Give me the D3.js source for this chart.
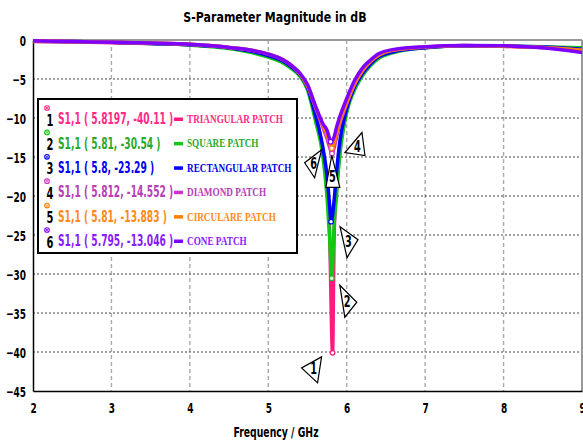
<!DOCTYPE html>
<html>
<head>
<meta charset="utf-8">
<script src="https://cdn.jsdelivr.net/npm/d3@7"></script>
<style>
  body { margin: 0; background: #fff; }
  svg { display: block; }
  .narrow { font-family: "DejaVu Sans", sans-serif; font-weight: bold; }
</style>
</head>
<body>
<svg id="chart" width="583" height="443"></svg>
<script>
// frequency grid (GHz) shared by all curves, dip minimum comes from the marker arrays
const freq = [2, 2.5, 3, 3.5, 4, 4.5, 5, 5.2, 5.3, 5.4, 5.5, 5.6, 5.7, 5.75, 5.78, 5.84, 5.87, 5.9, 6.0, 6.1, 6.2, 6.3, 6.4, 6.6, 7, 7.5, 8, 8.5, 9]

const triangular  = [-0.2, -0.25, -0.35, -0.45, -0.6, -1.0, -2.0, -2.8, -3.5, -4.4, -6.1, -9.4, -14.5, -18.5, -24, -25, -19, -15.5, -9.0, -6.1, -4.4, -3.1, -2.2, -1.4, -0.95, -0.75, -0.8, -0.95, -1.2]
const square      = [-0.15, -0.2, -0.3, -0.45, -0.65, -1.1, -2.2, -3.0, -3.7, -4.6, -6.4, -10.3, -15.2, -20.3, -25, -23.5, -20, -16, -9.3, -6.4, -4.6, -3.3, -2.4, -1.6, -1.0, -0.75, -0.8, -0.85, -1.0]
const rectangular = [-0.15, -0.2, -0.3, -0.45, -0.6, -1.0, -2.0, -2.8, -3.5, -4.4, -6.1, -9.6, -14, -17.5, -21, -20.5, -17, -14, -8.8, -6.0, -4.3, -3.1, -2.2, -1.5, -1.0, -0.75, -0.8, -0.9, -1.2]
const diamond     = [-0.1, -0.2, -0.3, -0.4, -0.55, -0.95, -1.8, -2.6, -3.3, -4.3, -5.9, -8.6, -11.3, -12.7, -13.7, -13.8, -12.5, -11.2, -8.2, -5.7, -4.0, -2.8, -2.0, -1.3, -0.9, -0.7, -0.8, -0.95, -1.3]
const circulare   = [-0.1, -0.2, -0.3, -0.4, -0.55, -0.95, -1.8, -2.6, -3.3, -4.3, -5.9, -8.5, -11.0, -12.2, -13.1, -13.2, -12.0, -10.9, -8.0, -5.6, -3.9, -2.8, -2.0, -1.3, -0.9, -0.7, -0.8, -0.95, -1.3]
const cone        = [-0.1, -0.2, -0.3, -0.4, -0.55, -0.95, -1.8, -2.6, -3.3, -4.2, -5.7, -8.4, -10.8, -11.6, -12.6, -12.4, -11.2, -10.2, -7.5, -5.2, -3.6, -2.6, -1.8, -1.2, -0.85, -0.7, -0.75, -1.0, -1.6]

const seriesNames = ["TRIANGULAR PATCH", "SQUARE PATCH", "RECTANGULAR PATCH", "DIAMOND PATCH", "CIRCULARE PATCH", "CONE PATCH"]
const lineColors = ["#ff1a80", "#12c812", "#0000ff", "#cc33cc", "#ff8000", "#8000ff"]
const textColors = ["#ff2a85", "#2aaa2a", "#0000ee", "#b640b6", "#ff8a1a", "#8a1aff"]

const markerFreq = [5.8197, 5.81, 5.8, 5.812, 5.81, 5.795]
const markerDb   = [-40.11, -30.54, -23.29, -14.552, -13.883, -13.046]

const xTicks = [2, 3, 4, 5, 6, 7, 8, 9]
const yTicks = [0, -5, -10, -15, -20, -25, -30, -35, -40, -45]

const series = [triangular, square, rectangular, diamond, circulare, cone]

// callout triangles, offsets from the marker point (px)
const callouts = [
  [[-11, 4], [-31, 15], [-15, 30]],
  [[8, 7], [25, 24], [13, 39]],
  [[9, 5], [27, 18], [16, 36]],
  [[13, -1], [30, -21], [33, 2]],
  [[0, 7], [-6, 39], [8, 39]],
  [[-9, 8], [-26, 21], [-16, 36]]
]

const svg = d3.select('#chart')

const x = d3.scaleLinear().domain([2, 9]).range([33, 582])
const y = d3.scaleLinear().domain([-45, 0]).range([391, 40])

// squeezed bold text, the original font is very condensed
function narrowText(parent, px, py, str, size, sx, anchor) {
  return parent.append('text')
    .attr('class', 'narrow')
    .attr('transform', `translate(${px},${py}) scale(${sx},1)`)
    .attr('text-anchor', anchor || 'start')
    .attr('dy', '0.35em')
    .style('font-size', size + 'px')
    .text(str)
}

// grid
svg.append('g').selectAll('line')
  .data(xTicks.slice(1, -1))
  .enter().append('line')
  .attr('x1', d => x(d)).attr('x2', d => x(d))
  .attr('y1', y(0)).attr('y2', y(-45))
  .attr('stroke', '#aaa').attr('stroke-width', 1.4)
  .attr('stroke-dasharray', '4,3')

svg.append('g').selectAll('line')
  .data(yTicks.slice(1, -1))
  .enter().append('line')
  .attr('x1', x(2)).attr('x2', x(9))
  .attr('y1', d => y(d)).attr('y2', d => y(d))
  .attr('stroke', '#444').attr('stroke-width', 1)
  .attr('stroke-dasharray', '2,2')

// frame
svg.append('line').attr('x1', x(2)).attr('x2', x(9)).attr('y1', y(0)).attr('y2', y(0))
  .attr('stroke', '#999').attr('stroke-width', 2)
svg.append('line').attr('x1', x(9)).attr('x2', x(9)).attr('y1', y(0)).attr('y2', y(-45))
  .attr('stroke', '#999').attr('stroke-width', 2)

// axes
const ySqueeze = 0.62, xSqueeze = 0.62
const yAxis = svg.append('g')
  .attr('transform', `translate(${x(2)},0)`)
  .call(d3.axisLeft(y).tickValues(yTicks).tickSize(0).tickFormat(d3.format('d')))
const xAxis = svg.append('g')
  .attr('transform', `translate(0,${y(-45)})`)
  .call(d3.axisBottom(x).tickValues(xTicks).tickSize(0).tickFormat(d3.format('d')))

;[xAxis, yAxis].forEach(ax => {
  ax.select('.domain').attr('stroke', '#000').attr('stroke-width', 1.5)
  ax.selectAll('text')
    .attr('class', 'narrow')
    .style('font-size', '14.5px')
    .attr('fill', '#000')
})
yAxis.selectAll('text')
  .attr('x', null).attr('dy', '0.35em')
  .attr('transform', `translate(-7,0) scale(${ySqueeze},1)`)
xAxis.selectAll('text')
  .attr('y', null).attr('dy', '0.71em')
  .attr('transform', `translate(0,12) scale(${xSqueeze},1)`)

// curves
const line = d3.line()
  .x(d => x(d[0]))
  .y(d => y(d[1]))
  .curve(d3.curveMonotoneX)

series.forEach((vals, i) => {
  const pts = freq.map((f, j) => [f, vals[j]])
  pts.push([markerFreq[i], markerDb[i]])
  pts.sort((a, b) => a[0] - b[0])
  svg.append('path')
    .datum(pts)
    .attr('d', line)
    .attr('fill', 'none')
    .attr('stroke', lineColors[i])
    .attr('stroke-width', 3.5)
    .attr('stroke-linejoin', 'round')
})

// marker points on curves
svg.append('g').selectAll('circle')
  .data(markerFreq)
  .enter().append('circle')
  .attr('cx', (d, i) => x(d))
  .attr('cy', (d, i) => y(markerDb[i]))
  .attr('r', 2.3)
  .attr('fill', '#fff')
  .attr('stroke', (d, i) => lineColors[i])
  .attr('stroke-width', 1.2)

// callout triangles
callouts.forEach((tri, i) => {
  const mx = x(markerFreq[i]), my = y(markerDb[i])
  const p = tri.map(o => [mx + o[0], my + o[1]])
  svg.append('path')
    .attr('d', 'M' + p.join('L') + 'Z')
    .attr('fill', '#fff')
    .attr('stroke', '#000')
    .attr('stroke-width', 1.2)
  const cx = d3.mean(p, d => d[0]), cy = d3.mean(p, d => d[1])
  narrowText(svg, cx, cy, i + 1, 15, 0.65, 'middle')
})

// legend
const legend = svg.append('g')
legend.append('rect')
  .attr('x', 38).attr('y', 99)
  .attr('width', 259).attr('height', 154)
  .attr('fill', '#fff')
  .attr('stroke', '#000')
  .attr('stroke-width', 2)

const rowY = d3.scaleLinear().domain([0, 5]).range([119, 241])

seriesNames.forEach((name, i) => {
  const ry = rowY(i)
  const g = legend.append('g')
  g.append('circle')
    .attr('cx', 47).attr('cy', ry - 11)
    .attr('r', 2.3)
    .attr('fill', '#fff')
    .attr('stroke', lineColors[i])
    .attr('stroke-width', 1.1)
  g.append('path')
    .attr('d', `M${45.6},${ry - 12.4}L${48.4},${ry - 9.6}M${48.4},${ry - 12.4}L${45.6},${ry - 9.6}`)
    .attr('stroke', lineColors[i])
    .attr('stroke-width', 0.8)
  narrowText(g, 50, ry + 1, i + 1, 16, 0.62, 'middle').attr('fill', '#000')
  narrowText(g, 58, ry, `S1,1 ( ${markerFreq[i]}, ${markerDb[i]} )`, 15, 0.61)
    .attr('fill', textColors[i])
  g.append('rect')
    .attr('x', 174).attr('y', ry - 1.5)
    .attr('width', 9).attr('height', 3.5)
    .attr('fill', lineColors[i])
  g.append('text')
    .attr('transform', `translate(187,${ry + 4}) scale(0.8,1)`)
    .style('font-family', '"Liberation Serif", "DejaVu Serif", serif')
    .style('font-weight', 'bold')
    .style('font-size', '11.5px')
    .attr('fill', textColors[i])
    .text(name)
})

// titles
narrowText(svg, 275, 17, 'S-Parameter Magnitude in dB', 14.5, 0.76, 'middle')
narrowText(svg, 276, 432, 'Frequency / GHz', 13.5, 0.69, 'middle')
</script>
</body>
</html>
